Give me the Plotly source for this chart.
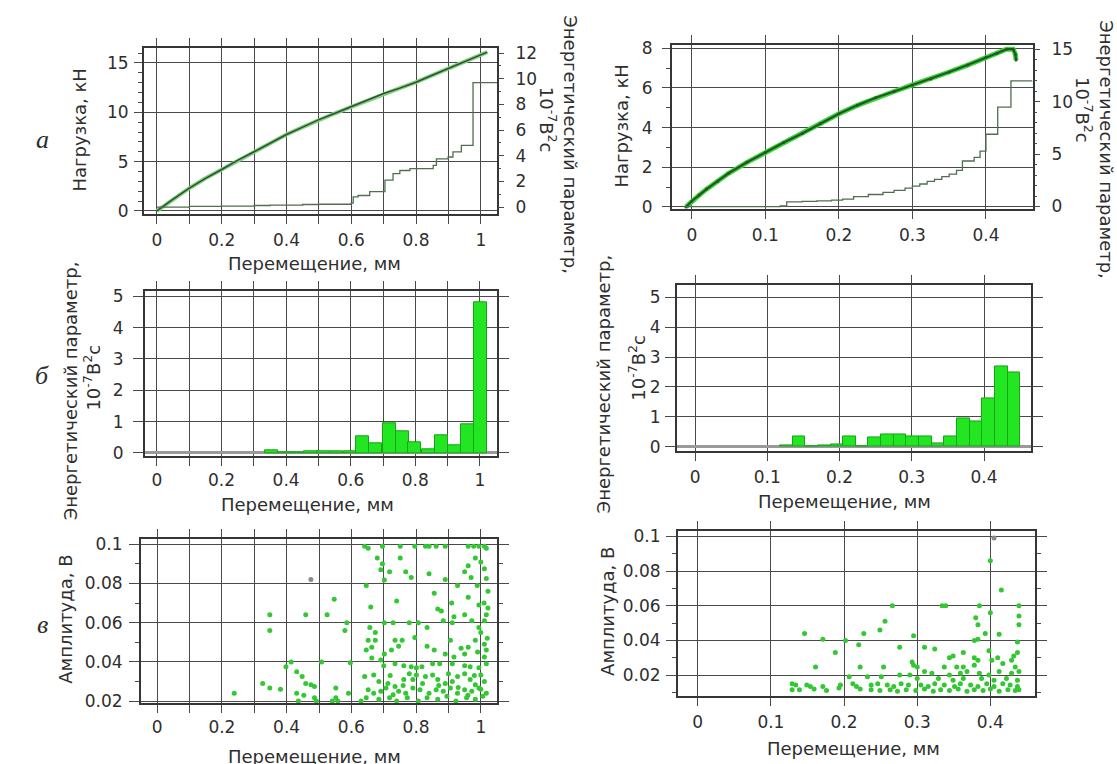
import plotly.graph_objects as go

# ---------------- data ----------------
# (a) left: load and cumulative energy parameter vs displacement
tl_load_x = [0.0, 0.05, 0.1, 0.15, 0.2, 0.25, 0.3, 0.35, 0.4, 0.45, 0.5, 0.55,
             0.6, 0.65, 0.7, 0.75, 0.8, 0.85, 0.9, 0.95, 1.0, 1.02]
tl_load_y = [0.0, 1.2, 2.3, 3.3, 4.2, 5.15, 6.0, 6.9, 7.75, 8.5, 9.25, 9.9,
             10.55, 11.2, 11.9, 12.45, 13.05, 13.75, 14.45, 15.1, 15.8, 16.1]
tl_energy_x = [0.0, 0.1, 0.2, 0.3, 0.35, 0.45, 0.5, 0.6, 0.606, 0.621, 0.657,
               0.704, 0.729, 0.750, 0.781, 0.853, 0.863, 0.899, 0.914, 0.940,
               0.976, 1.05]
tl_energy_y = [0.0, 0.05, 0.08, 0.12, 0.15, 0.2, 0.22, 0.3, 0.8, 0.9, 1.2,
               2.1, 2.6, 2.85, 3.0, 3.25, 3.75, 3.9, 4.3, 4.8, 9.7, 9.7]

# (a) right
tr_load_x = [-0.008, 0.0, 0.01, 0.02, 0.035, 0.05, 0.075, 0.1, 0.125, 0.15,
             0.175, 0.2, 0.225, 0.25, 0.275, 0.3, 0.325, 0.35, 0.375, 0.4,
             0.415, 0.428, 0.437, 0.440, 0.441]
tr_load_y = [0.0, 0.3, 0.6, 0.9, 1.3, 1.7, 2.25, 2.75, 3.25, 3.7, 4.2, 4.7,
             5.12, 5.5, 5.82, 6.15, 6.45, 6.8, 7.15, 7.55, 7.75, 7.95, 7.95,
             7.7, 7.4]
tr_energy_x = [-0.01, 0.12, 0.129, 0.15, 0.17, 0.19, 0.205, 0.22, 0.24, 0.26,
               0.275, 0.29, 0.30, 0.31, 0.32, 0.33, 0.34, 0.35, 0.36, 0.368,
               0.384, 0.392, 0.400, 0.416, 0.434, 0.463]
tr_energy_y = [0.0, 0.05, 0.45, 0.5, 0.55, 0.62, 0.7, 0.95, 1.15, 1.35, 1.55,
               1.75, 1.95, 2.15, 2.4, 2.6, 2.85, 3.1, 3.45, 4.35, 4.7, 5.3,
               6.9, 9.5, 12.0, 12.0]

# (б) energy parameter per displacement bin
ml_bin_x = [0.356, 0.396, 0.436, 0.477, 0.517, 0.557, 0.598, 0.638, 0.678,
            0.719, 0.759, 0.799, 0.840, 0.880, 0.920, 0.961, 1.001]
ml_bin_y = [0.07, 0.03, 0.03, 0.06, 0.04, 0.05, 0.04, 0.53, 0.3,
            0.95, 0.7, 0.35, 0.12, 0.57, 0.25, 0.9, 4.8]
ml_bin_width = 0.0403

mr_bin_x = [0.12625, 0.14375, 0.16125, 0.17875, 0.19625, 0.21375, 0.23125,
            0.24875, 0.26625, 0.28375, 0.30125, 0.31875, 0.33625, 0.35375,
            0.37125, 0.38875, 0.40625, 0.42375, 0.44125]
mr_bin_y = [0.05, 0.35, 0.02, 0.05, 0.08, 0.35, 0.0, 0.3, 0.4, 0.4, 0.35,
            0.35, 0.12, 0.35, 0.95, 0.85, 1.6, 2.7, 2.5]
mr_bin_width = 0.0175

# (в) amplitude of acoustic emission events
bl_x = [0.641, 0.652, 0.696, 0.751, 0.796, 0.829, 0.840, 0.862, 0.890, 0.961,
        0.978, 0.994, 1.011, 1.017,
        0.680, 0.696, 0.751, 0.691, 0.718, 0.768, 0.785, 0.646, 0.702, 0.928,
        0.890, 0.950, 0.961, 0.983, 1.000, 1.011, 1.017, 0.989, 1.022, 0.856,
        0.961, 0.994, 1.022, 0.867, 0.878, 0.917, 0.950, 0.972, 0.994, 1.011,
        1.017, 0.547, 0.348, 0.459, 0.525, 0.586, 0.348, 0.580, 0.657, 0.674,
        0.702, 0.729, 0.779, 0.807, 0.834, 0.884, 0.912, 0.652, 0.674, 0.735,
        0.746, 0.757, 0.796, 0.834, 0.906, 0.939, 0.961, 0.983, 1.011, 1.017,
        0.646, 0.663, 0.702, 0.724, 0.856, 0.890, 0.917, 0.950, 1.011, 0.414,
        0.508, 0.597, 0.663, 0.691, 0.735, 0.762, 0.785, 0.801, 0.818, 0.851,
        0.873, 0.912, 0.967, 0.994, 1.017, 0.398, 0.431, 0.448, 0.459, 0.475,
        0.486, 0.326, 0.348, 0.381, 0.431, 0.641, 0.669, 0.685, 0.713, 0.735,
        0.762, 0.779, 0.801, 0.829, 0.851, 0.867, 0.890, 0.912, 0.928, 0.950,
        0.967, 0.983, 1.000, 1.011, 0.652, 0.669, 0.691, 0.707, 0.729, 0.746,
        0.768, 0.790, 0.812, 0.840, 0.862, 0.884, 0.906, 0.928, 0.950, 0.972,
        0.994, 1.017, 0.238, 0.453, 0.486, 0.552, 0.552, 0.591, 0.646, 0.685,
        0.718, 0.740, 0.773, 0.807, 0.834, 0.867, 0.895, 0.923, 0.956, 0.983,
        1.006, 0.436, 0.492, 0.541, 0.558, 0.630,
        0.87, 0.90, 0.93, 0.96, 0.98, 1.0, 0.82, 0.79, 0.76, 0.72, 0.70, 0.95,
        0.99, 1.02, 1.0, 1.01, 0.97, 0.66, 0.74, 0.84, 0.91]
bl_y = [0.099, 0.098, 0.099, 0.099, 0.099, 0.099, 0.099, 0.099, 0.099, 0.099,
        0.099, 0.099, 0.099, 0.098,
        0.093, 0.090, 0.093, 0.087, 0.086, 0.086, 0.083, 0.079, 0.0817, 0.079,
        0.082, 0.086, 0.089, 0.093, 0.091, 0.0875, 0.0825, 0.079, 0.076, 0.075,
        0.073, 0.069, 0.0675, 0.067, 0.066, 0.063, 0.064, 0.061, 0.0575, 0.061,
        0.064, 0.072, 0.064, 0.064, 0.064, 0.060, 0.056, 0.056, 0.0575, 0.055,
        0.060, 0.060, 0.060, 0.060, 0.0575, 0.061, 0.060, 0.051, 0.051, 0.051,
        0.048, 0.051, 0.0525, 0.048, 0.051, 0.047, 0.0475, 0.051, 0.049, 0.046,
        0.046, 0.0475, 0.044, 0.046, 0.046, 0.044, 0.0425, 0.044, 0.0425, 0.040,
        0.040, 0.0395, 0.042, 0.041, 0.039, 0.038, 0.0375, 0.037, 0.0375, 0.039,
        0.039, 0.039, 0.0375, 0.037, 0.039, 0.0375, 0.035, 0.0325, 0.029, 0.0283,
        0.0275, 0.029, 0.0267, 0.026, 0.024, 0.0325, 0.0333, 0.030, 0.029, 0.0275,
        0.031, 0.034, 0.0333, 0.0325, 0.0333, 0.031, 0.029, 0.030, 0.0325, 0.034,
        0.031, 0.0283, 0.0333, 0.030, 0.0258, 0.024, 0.025, 0.0267, 0.0233, 0.025,
        0.024, 0.0267, 0.0258, 0.024, 0.0258, 0.025, 0.0267, 0.024, 0.0258, 0.025,
        0.0267, 0.024, 0.024, 0.023, 0.0217, 0.0267, 0.0217, 0.024, 0.0217, 0.021,
        0.0217, 0.020, 0.0217, 0.020, 0.0217, 0.021, 0.0225, 0.020, 0.0217, 0.021,
        0.0225, 0.020, 0.020, 0.020, 0.020, 0.020,
        0.028, 0.034, 0.027, 0.023, 0.033, 0.026, 0.029, 0.031, 0.028, 0.033,
        0.038, 0.038, 0.045, 0.052, 0.055, 0.070, 0.083, 0.068, 0.071, 0.085,
        0.070]
bl_grey_x = [0.475]
bl_grey_y = [0.082]

br_x = [0.400, 0.415, 0.266, 0.334, 0.339, 0.385, 0.439, 0.256, 0.400, 0.380,
        0.439, 0.439, 0.383, 0.146, 0.227, 0.249, 0.295, 0.393, 0.412, 0.378,
        0.171, 0.202, 0.220, 0.437, 0.383, 0.188, 0.276, 0.310, 0.324, 0.349,
        0.363, 0.378, 0.398, 0.410, 0.432, 0.437, 0.161, 0.222, 0.254, 0.293,
        0.295, 0.300, 0.337, 0.354, 0.378, 0.417, 0.434, 0.344, 0.363, 0.383,
        0.402, 0.429, 0.310, 0.320, 0.344, 0.359, 0.368, 0.385, 0.398, 0.412,
        0.429, 0.439, 0.207, 0.232, 0.251, 0.276, 0.290, 0.300, 0.329, 0.349,
        0.363, 0.388, 0.405, 0.422, 0.437,
        0.129, 0.134, 0.149, 0.154, 0.171, 0.195, 0.212, 0.217, 0.237, 0.246,
        0.259, 0.268, 0.278, 0.288, 0.305, 0.315, 0.324, 0.337, 0.351, 0.359,
        0.373, 0.383, 0.395, 0.405, 0.417, 0.427, 0.437,
        0.129, 0.139, 0.159, 0.176, 0.193, 0.222, 0.237, 0.249, 0.263, 0.273,
        0.285, 0.298, 0.310, 0.322, 0.332, 0.344, 0.356, 0.368, 0.378, 0.390,
        0.400, 0.412, 0.424, 0.434, 0.439]
br_y = [0.086, 0.069, 0.060, 0.060, 0.060, 0.060, 0.060, 0.051, 0.056, 0.053,
        0.054, 0.049, 0.049, 0.044, 0.044, 0.046, 0.0426, 0.044, 0.0435, 0.040,
        0.0407, 0.040, 0.0375, 0.039, 0.0407, 0.033, 0.036, 0.036, 0.035, 0.031,
        0.033, 0.030, 0.034, 0.030, 0.031, 0.033, 0.0247, 0.0247, 0.0247, 0.0275,
        0.0256, 0.0247, 0.0247, 0.0247, 0.0256, 0.0266, 0.0247, 0.030, 0.0247,
        0.0285, 0.0285, 0.0285, 0.022, 0.021, 0.020, 0.021, 0.022, 0.021, 0.020,
        0.022, 0.021, 0.022, 0.019, 0.019, 0.019, 0.020, 0.020, 0.018, 0.018,
        0.017, 0.018, 0.018, 0.017, 0.018, 0.017,
        0.015, 0.0143, 0.0143, 0.0134, 0.0134, 0.0143, 0.015, 0.0134, 0.0143,
        0.015, 0.0143, 0.0134, 0.015, 0.0143, 0.0143, 0.0134, 0.015, 0.0143,
        0.0134, 0.015, 0.0143, 0.0134, 0.015, 0.0134, 0.015, 0.0143, 0.0134,
        0.0115, 0.0115, 0.012, 0.0111, 0.0125, 0.012, 0.0115, 0.0111, 0.0115,
        0.0106, 0.0115, 0.0111, 0.012, 0.0106, 0.0115, 0.0111, 0.012, 0.0106,
        0.0115, 0.0111, 0.012, 0.0106, 0.0115, 0.0111, 0.0115]
br_grey_x = [0.405]
br_grey_y = [0.099]

x_title = "Перемещение, мм"
load_title = "Нагрузка, кН"
energy_title = "Энергетический параметр,"
energy_units = "10<sup>-7</sup>В<sup>2</sup>с"
amp_title = "Амплитуда, В"
row_labels = ["а", "б", "в"]

# ---------------- styling ----------------
W, H = 1117, 764
FONT = "DejaVu Sans, Arial, sans-serif"
TXT = "#2e2e2e"
GRID = "#4a4a4a"
FRAME = "#363636"
LIME = "#22e622"
LIME_EDGE = "#17a417"
DOT = "#33c833"
TICK_SIZE = 17
TITLE_SIZE = 18


def dom_x(left, right):
    return [left / W, right / W]


def dom_y(top, bottom):
    return [1 - bottom / H, 1 - top / H]


def xaxis(domain, rng, dtick, minor_dtick=None, anchor="y", standoff=2):
    ax = dict(domain=domain, range=rng, anchor=anchor, tick0=0, dtick=dtick,
              showline=True, mirror="ticks", linecolor=FRAME, linewidth=2,
              ticks="outside", ticklen=8, tickcolor=GRID, tickwidth=1,
              showgrid=True, gridcolor=GRID, gridwidth=1, zeroline=False,
              ticklabelstandoff=standoff,
              tickfont=dict(family=FONT, size=TICK_SIZE, color=TXT))
    if minor_dtick:
        ax["minor"] = dict(dtick=minor_dtick, tick0=0, ticklen=8,
                           tickcolor=GRID, showgrid=True, gridcolor=GRID,
                           gridwidth=1)
    return ax


def yaxis(domain, rng, dtick, anchor, minor_dtick=None, mirror="ticks",
          ticklen=10, standoff=2, zero=False):
    ax = dict(domain=domain, range=rng, anchor=anchor, tick0=0, dtick=dtick,
              showline=True, mirror=mirror, linecolor=FRAME, linewidth=2,
              ticks="outside", ticklen=ticklen, tickcolor=GRID, tickwidth=1,
              showgrid=True, gridcolor=GRID, gridwidth=1,
              zeroline=zero, zerolinecolor="#9a9a9a", zerolinewidth=3,
              ticklabelstandoff=standoff,
              tickfont=dict(family=FONT, size=TICK_SIZE, color=TXT))
    if minor_dtick:
        ax["minor"] = dict(dtick=minor_dtick, tick0=0, ticklen=4,
                           tickcolor=GRID, showgrid=False)
    return ax


def right_axis(overlay, anchor, rng, dtick, minor_dtick):
    return dict(overlaying=overlay, anchor=anchor, side="right", range=rng,
                tick0=0, dtick=dtick, showline=False, showgrid=False,
                zeroline=False, ticks="outside", ticklen=6, tickcolor=GRID,
                ticklabelstandoff=8,
                minor=dict(dtick=minor_dtick, tick0=0, ticklen=3,
                           tickcolor=GRID),
                tickfont=dict(family=FONT, size=TICK_SIZE, color=TXT))


fig = go.Figure()

# (a) left
fig.add_trace(go.Scatter(x=tl_load_x, y=tl_load_y, mode="lines",
                         line=dict(color="#7fd07f", width=4),
                         xaxis="x", yaxis="y", hoverinfo="skip"))
fig.add_trace(go.Scatter(x=tl_load_x, y=tl_load_y, mode="lines",
                         line=dict(color="#2f4f2f", width=1.5),
                         xaxis="x", yaxis="y"))
fig.add_trace(go.Scatter(x=tl_energy_x, y=tl_energy_y, mode="lines",
                         line=dict(color="#4f6f4f", width=1.3, shape="hv"),
                         xaxis="x", yaxis="y2"))

# (a) right
fig.add_trace(go.Scatter(x=tr_load_x, y=tr_load_y, mode="lines",
                         line=dict(color="#3fd33f", width=5),
                         xaxis="x2", yaxis="y3", hoverinfo="skip"))
fig.add_trace(go.Scatter(x=tr_load_x, y=tr_load_y, mode="lines+markers",
                         line=dict(color="#1e5a1e", width=2.2),
                         marker=dict(size=3, color="#1e5a1e"),
                         xaxis="x2", yaxis="y3"))
fig.add_trace(go.Scatter(x=tr_energy_x, y=tr_energy_y, mode="lines",
                         line=dict(color="#4f6f4f", width=1.3, shape="hv"),
                         xaxis="x2", yaxis="y4"))

# (б)
fig.add_trace(go.Bar(x=ml_bin_x, y=ml_bin_y,
                     width=[ml_bin_width] * len(ml_bin_x),
                     marker=dict(color=LIME, line=dict(color=LIME_EDGE, width=1)),
                     xaxis="x3", yaxis="y5"))
fig.add_trace(go.Bar(x=mr_bin_x, y=mr_bin_y,
                     width=[mr_bin_width] * len(mr_bin_x),
                     marker=dict(color=LIME, line=dict(color=LIME_EDGE, width=1)),
                     xaxis="x4", yaxis="y6"))

# (в)
fig.add_trace(go.Scatter(x=bl_x, y=bl_y, mode="markers",
                         marker=dict(size=5, color=DOT),
                         xaxis="x5", yaxis="y7"))
fig.add_trace(go.Scatter(x=bl_grey_x, y=bl_grey_y, mode="markers",
                         marker=dict(size=5, color="#8a8a8a"),
                         xaxis="x5", yaxis="y7"))
fig.add_trace(go.Scatter(x=br_x, y=br_y, mode="markers",
                         marker=dict(size=5, color=DOT),
                         xaxis="x6", yaxis="y8"))
fig.add_trace(go.Scatter(x=br_grey_x, y=br_grey_y, mode="markers",
                         marker=dict(size=5, color="#8a8a8a"),
                         xaxis="x6", yaxis="y8"))

# panel frames in pixels: (left, right, top, bottom)
TL = (144, 497, 42, 211)
TR = (672, 1033, 39, 206)
ML = (145, 497, 290, 458)
MR = (677, 1031, 284, 453)
BL = (141, 497, 543, 710)
BR = (678, 1035, 535, 703)

layout = dict(
    width=W, height=H, margin=dict(l=0, r=0, t=0, b=0),
    paper_bgcolor="white", plot_bgcolor="white", showlegend=False,
    bargap=0,
    xaxis=xaxis(dom_x(TL[0], TL[1]), [-0.04, 1.05], 0.2, 0.1, "y", 2),
    yaxis=yaxis(dom_y(TL[2], TL[3]), [-0.3, 16.5], 5, "x", 1, mirror=True,
                ticklen=8, standoff=2),
    yaxis2=right_axis("y", "x", [-0.53, 12.38], 2, 1),
    xaxis2=xaxis(dom_x(TR[0], TR[1]), [-0.027, 0.464], 0.1, None, "y3", 2),
    yaxis3=yaxis(dom_y(TR[2], TR[3]), [-0.1, 8.15], 2, "x2", 1, mirror=True,
                 ticklen=8, standoff=6),
    yaxis4=right_axis("y3", "x2", [-0.23, 15.4], 5, 1),
    xaxis3=xaxis(dom_x(ML[0], ML[1]), [-0.037, 1.053], 0.2, 0.1, "y5", 0),
    yaxis5=yaxis(dom_y(ML[2], ML[3]), [-0.1, 5.16], 1, "x3", standoff=6,
                 zero=True),
    xaxis4=xaxis(dom_x(MR[0], MR[1]), [-0.025, 0.465], 0.1, None, "y6", 1),
    yaxis6=yaxis(dom_y(MR[2], MR[3]), [-0.15, 5.4], 1, "x4", standoff=1,
                 zero=True),
    xaxis5=xaxis(dom_x(BL[0], BL[1]), [-0.05, 1.05], 0.2, 0.1, "y7", 0),
    yaxis7=yaxis(dom_y(BL[2], BL[3]), [0.019, 0.1025], 0.02, "x5", 0.01,
                 standoff=3),
    xaxis6=xaxis(dom_x(BR[0], BR[1]), [-0.027, 0.461], 0.1, None, "y8", 1),
    yaxis8=yaxis(dom_y(BR[2], BR[3]), [0.0078, 0.1028], 0.02, "x6", 0.01,
                 standoff=2),
)


def label(text, px, py, angle=0, size=TITLE_SIZE, family=FONT, italic=False):
    return dict(text=f"<i>{text}</i>" if italic else text,
                xref="paper", yref="paper", x=px / W, y=1 - py / H,
                xanchor="center", yanchor="middle", showarrow=False,
                textangle=angle, font=dict(family=family, size=size, color=TXT))


serif = "Liberation Serif, Times New Roman, serif"
annotations = [
    label(row_labels[0], 42, 135, size=26, family=serif, italic=True),
    label(row_labels[1], 42, 376, size=26, family=serif, italic=True),
    label(row_labels[2], 42, 630, size=26, family=serif, italic=True),
    # (a) left
    label(load_title, 80, 126, angle=-90),
    label(energy_units, 548, 115, angle=90),
    label(energy_title, 571, 140, angle=90),
    label(x_title, 314, 262),
    # (a) right
    label(load_title, 622, 122, angle=-90),
    label(energy_units, 1084, 105, angle=90),
    label(energy_title, 1107, 145, angle=90),
    # (б)
    label(energy_title, 70, 392, angle=-90),
    label(energy_units, 92, 378, angle=-90),
    label(x_title, 307, 507),
    label(energy_title, 603, 385, angle=-90),
    label(energy_units, 637, 368, angle=-90),
    label(x_title, 844, 504),
    # (в)
    label(amp_title, 66, 625, angle=-90),
    label(x_title, 314, 765),
    label(amp_title, 608, 616, angle=-90),
    label(x_title, 853, 756),
]
layout["annotations"] = annotations

fig.update_layout(**layout)
fig.write_html("out.html")
